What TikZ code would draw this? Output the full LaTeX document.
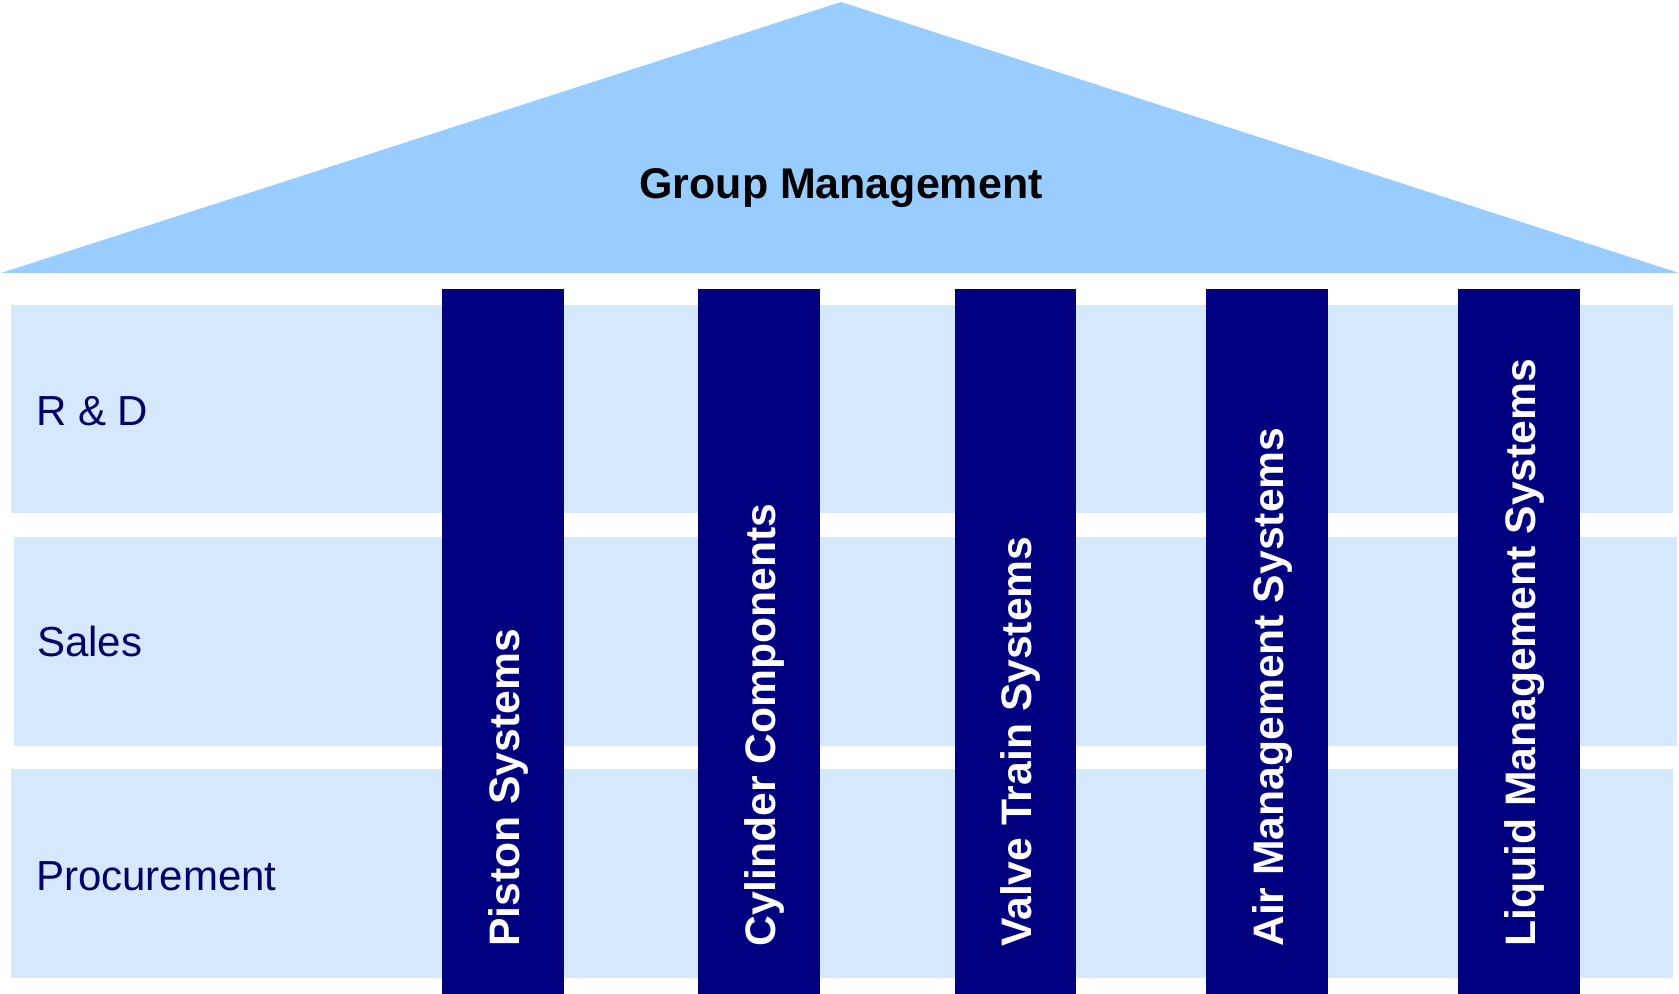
\documentclass[tikz,border=0pt]{standalone}
\usepackage{fontspec}
\setmainfont{Liberation Sans}
\definecolor{roofblue}{HTML}{99CCFF}
\definecolor{bandblue}{HTML}{D5E8FD}
\definecolor{navy}{HTML}{000080}
\definecolor{labelnavy}{HTML}{000066}
\begin{document}
\begin{tikzpicture}[x=0.75pt,y=-0.75pt,
  band/.style={fill=bandblue},
  pillar/.style={fill=navy},
  rowlabel/.style={anchor=base west,inner sep=0pt,text=labelnavy,font=\fontsize{31.5}{36}\selectfont},
  pillartext/.style={anchor=base west,rotate=90,inner sep=0pt,text=white,font=\bfseries\fontsize{32}{36}\selectfont},
  rooftext/.style={anchor=base,inner sep=0pt,text=black,font=\bfseries\fontsize{32.2}{36}\selectfont}]
\useasboundingbox (0,0) rectangle (1679,994);
\fill[white] (0,0) rectangle (1679,994);
% roof
\fill[roofblue] (1,273) -- (841,2) -- (1679,273) -- cycle;
% bands
\fill[band] (11,305) rectangle (1673,513);
\fill[band] (14,537) rectangle (1677,746);
\fill[band] (11,769) rectangle (1673,978);
% pillars
\fill[pillar] (442,289) rectangle (564,994);
\fill[pillar] (698,289) rectangle (820,994);
\fill[pillar] (955,289) rectangle (1076,994);
\fill[pillar] (1206,289) rectangle (1328,994);
\fill[pillar] (1458,289) rectangle (1580,994);
% texts
\node[rooftext] (gm) at (841,199) {Group Management};
\node[rowlabel] (rd) at (36,426) {R \& D};
\node[rowlabel] (sales) at (37,657) {Sales};
\node[rowlabel] (proc) at (36,890) {Procurement};
\node[pillartext] (p1) at (519,947) {Piston Systems};
\node[pillartext] (p2) at (775,947) {Cylinder Components};
\node[pillartext] (p3) at (1031.5,947) {Valve Train Systems};
\node[pillartext] (p4) at (1283,947) {Air Management Systems};
\node[pillartext] (p5) at (1535,947) {Liquid Management Systems};
\end{tikzpicture}
\end{document}
